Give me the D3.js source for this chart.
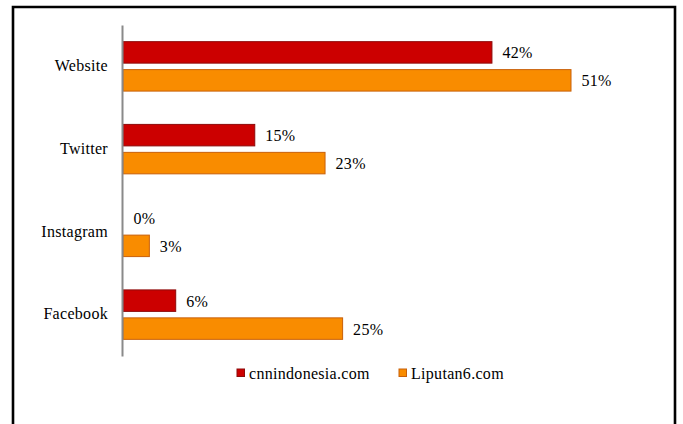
<!DOCTYPE html>
<html>
<head>
<meta charset="utf-8">
<script src="https://cdn.jsdelivr.net/npm/d3@7/dist/d3.min.js"></script>
<style>
  html, body { margin: 0; padding: 0; background: #fff; }
  svg { display: block; }
</style>
</head>
<body>
<svg id="chart" width="683" height="424"></svg>
<script>
const categories = ["Website", "Twitter", "Instagram", "Facebook"];
const seriesNames = ["cnnindonesia.com", "Liputan6.com"];
const cnnValues = [42, 15, 0, 6];
const liputanValues = [51, 23, 3, 25];
const seriesColors = ["#CC0000", "#F98C00"];
const seriesStrokes = ["#8E0A0A", "#C8600A"];

const FONT = "'Times New Roman', 'Liberation Serif', Times, serif";

const svg = d3.select("#chart");

function styleText(sel) {
  sel.style("font-family", FONT).style("font-size", "16px")
     .style("letter-spacing", "0.3px").style("fill", "#000");
}

// frame (open at bottom)
svg.append("path")
  .attr("d", "M13,430 L13,7 L675,7 L675,430")
  .attr("fill", "none").attr("stroke", "#000").attr("stroke-width", 2.6);

const x = d3.scaleLinear().domain([0, 51]).range([123, 571]);
const y0 = d3.scaleBand().domain(categories).range([25, 356]).paddingInner(0).paddingOuter(0);
const y1 = d3.scaleBand().domain(seriesNames).range([0, y0.bandwidth()])
  .paddingInner(0.196).paddingOuter(0.578);

const data = categories.map((c, i) => ({
  cat: c,
  vals: [
    { s: seriesNames[0], v: cnnValues[i], k: 0 },
    { s: seriesNames[1], v: liputanValues[i], k: 1 }
  ]
}));

const groups = svg.selectAll("g.cat").data(data).enter().append("g")
  .attr("class", "cat")
  .attr("transform", d => `translate(0,${y0(d.cat)})`);

groups.selectAll("rect").data(d => d.vals.filter(e => e.v > 0)).enter().append("rect")
  .attr("x", x(0))
  .attr("y", d => y1(d.s) + 0.5)
  .attr("width", d => x(d.v) - x(0))
  .attr("height", y1.bandwidth() - 1)
  .attr("fill", d => seriesColors[d.k])
  .attr("stroke", d => seriesStrokes[d.k])
  .attr("stroke-width", 1);

groups.selectAll("text.val").data(d => d.vals).enter().append("text")
  .attr("class", "val")
  .attr("x", d => x(d.v) + 10.5)
  .attr("y", d => y1(d.s) + y1.bandwidth() / 2 + 6)
  .text(d => d.v + "%")
  .call(styleText);

// axis
const yAxis = d3.axisLeft(y0).tickSize(0).tickPadding(14);
const ax = svg.append("g").attr("transform", `translate(${x(0) - 1},0)`).call(yAxis);
ax.attr("font-family", null).attr("font-size", null);
ax.select(".domain").attr("stroke", "#8a8a8a").attr("stroke-width", 2);
ax.selectAll(".tick text")
  .attr("dy", "0.3em")
  .call(styleText);

// legend
const legendItems = [
  { name: seriesNames[0], k: 0, x: 237 },
  { name: seriesNames[1], k: 1, x: 399 }
];
const lg = svg.selectAll("g.leg").data(legendItems).enter().append("g")
  .attr("class", "leg")
  .attr("transform", d => `translate(${d.x},369)`);
lg.append("rect").attr("width", 7.5).attr("height", 7.5)
  .attr("fill", d => seriesColors[d.k])
  .attr("stroke", d => seriesStrokes[d.k]).attr("stroke-width", 1);
lg.append("text").attr("x", 12).attr("y", 9.5).text(d => d.name).call(styleText);
</script>
</body>
</html>
